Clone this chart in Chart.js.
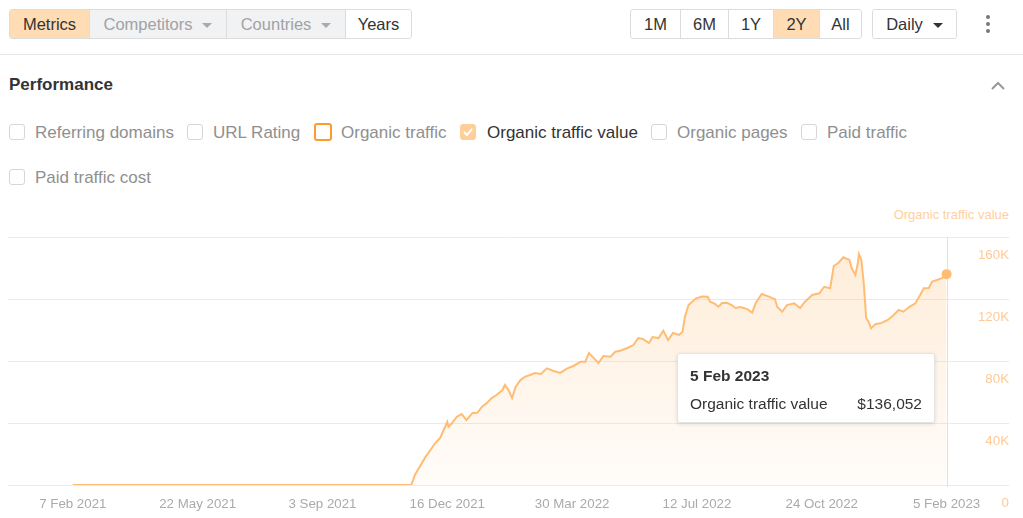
<!DOCTYPE html>
<html>
<head>
<meta charset="utf-8">
<script src="https://cdn.jsdelivr.net/npm/chart.js@4/dist/chart.umd.min.js"></script>
<style>
    html, body { margin: 0; padding: 0; background: #fff; }
    body { width: 1023px; height: 518px; position: relative; overflow: hidden;
        font-family: "Liberation Sans", Arial, sans-serif; color: #333; }
    .seg { position: absolute; top: 9px; height: 30px; display: flex; border: 1px solid #dcdcdc;
        border-radius: 3px; box-sizing: border-box; overflow: hidden; }
    .seg div { height: 28px; line-height: 28px; font-size: 16.5px; text-align: center; box-sizing: border-box;
        border-left: 1px solid #dcdcdc; background: #fff; color: #333; }
    .seg div:first-child { border-left: none; }
    .seg .on { background: #ffdcb4; }
    .seg .off { background: #f1f2f4; color: #a2a2a2; }
    .caret { display: inline-block; width: 0; height: 0; border-left: 5px solid transparent;
        border-right: 5px solid transparent; border-top: 5px solid #aaa; vertical-align: middle; margin-left: 10px; }
    .dark { border-top-color: #333; }
    .sep { position: absolute; left: 0; top: 54px; width: 1023px; height: 1px; background: #e6e6e6; }
    .title { position: absolute; left: 9px; top: 75px; font-size: 17px; font-weight: bold; color: #333; }
    .cb { position: absolute; font-size: 17px; color: #8f8f8f; white-space: nowrap; }
    .cb .box { position: absolute; left: 0; top: 1px; width: 16px; height: 16px; border: 1px solid #d6d6d6;
        border-radius: 3px; box-sizing: border-box; }
    .cb span { position: absolute; left: 26px; top: 0; }
    .kebab { position: absolute; left: 986px; top: 15px; width: 4px; }
    .kebab i { display: block; width: 4px; height: 4px; border-radius: 2px; background: #777; margin-bottom: 3px; }
    #wrap { position: absolute; left: 0; top: 225px; width: 1023px; height: 304px; }
    .axtitle { position: absolute; right: 14px; top: 207px; font-size: 13px; color: #ffcf9f; }
    #tip { position: absolute; left: 677px; top: 353px; width: 258px; height: 70px; background: #fff;
        border: 1px solid #e4e4e4; border-radius: 3px; box-sizing: border-box;
        box-shadow: 0 1px 4px rgba(0,0,0,0.12); font-size: 15.5px; color: #333; }
    #tip .t { position: absolute; left: 12px; top: 13px; font-weight: bold; }
    #tip .l { position: absolute; left: 12px; top: 41px; }
    #tip .v { position: absolute; right: 12px; top: 41px; }
</style>
</head>
<body>
<div class="seg" style="left:9px;width:403px;">
    <div class="on" style="width:79px;">Metrics</div>
    <div class="off" style="width:137px;">Competitors<span class="caret"></span></div>
    <div class="off" style="width:119px;">Countries<span class="caret"></span></div>
    <div style="width:66px;">Years</div>
</div>
<div class="seg" style="left:630px;width:232px;">
    <div style="width:49px;">1M</div>
    <div style="width:48px;">6M</div>
    <div style="width:45px;">1Y</div>
    <div class="on" style="width:46px;">2Y</div>
    <div style="width:42px;">All</div>
</div>
<div class="seg" style="left:872px;width:85px;">
    <div style="width:83px;">Daily<span class="caret dark"></span></div>
</div>
<div class="kebab"><i></i><i></i><i></i></div>
<div class="sep"></div>
<div class="title">Performance</div>
<svg style="position:absolute;left:991px;top:81px" width="14" height="9"><polyline points="1,8 7,2 13,8" fill="none" stroke="#999" stroke-width="2"/></svg>

<div class="cb" style="left:9px;top:123px;"><div class="box"></div><span>Referring domains</span></div>
<div class="cb" style="left:187px;top:123px;"><div class="box"></div><span>URL Rating</span></div>
<div class="cb" style="left:314px;top:123px;"><div class="box" style="border:2px solid #ff9b2e;width:18px;height:18px;top:0;"></div><span style="left:27px;">Organic traffic</span></div>
<div class="cb" style="left:460px;top:123px;"><div class="box" style="background:#ffcf9a;border-color:#ffcf9a;">
    <svg width="14" height="14" style="position:absolute;left:0;top:0"><polyline points="3,7 6,10 11,4" fill="none" stroke="#fff" stroke-width="2"/></svg></div><span style="color:#333;left:27px;">Organic traffic value</span></div>
<div class="cb" style="left:651px;top:123px;"><div class="box"></div><span>Organic pages</span></div>
<div class="cb" style="left:801px;top:123px;"><div class="box"></div><span>Paid traffic</span></div>
<div class="cb" style="left:9px;top:168px;"><div class="box"></div><span>Paid traffic cost</span></div>

<div class="axtitle">Organic traffic value</div>
<div id="wrap"><canvas id="perfChart"></canvas></div>
<div id="tip"><div class="t"></div><div class="l">Organic traffic value</div><div class="v"></div></div>

<script>
// day offsets counted from 7 Feb 2021
const days = [0, 282, 285, 289, 294, 298, 302, 306, 309, 312, 313, 316, 320, 324, 328, 333, 337, 341, 345, 349,
    353, 358, 360, 363, 366, 369, 373, 377, 381, 385, 390, 395, 400, 406, 412, 417, 423, 427, 430, 434,
    438, 442, 448, 452, 456, 462, 467, 471, 475, 480, 483, 488, 492, 496, 500, 505, 508, 510, 513, 519,
    524, 529, 531, 535, 538, 541, 545, 549, 552, 556, 562, 566, 569, 574, 580, 585, 587, 591, 595, 601,
    606, 610, 616, 622, 626, 631, 634, 638, 642, 647, 649, 652, 654, 655, 657, 659, 661, 663, 665, 669,
    673, 679, 684, 688, 692, 697, 702, 706, 709, 713, 716, 720, 724, 728];

const trafficValue = [0, 0, 6500, 11800, 18300, 22600, 27100, 30300, 35500, 40800, 37600, 40000, 44100, 45800, 41900, 46500, 46600, 50500, 52900, 56100,
    58100, 61300, 64500, 61300, 56100, 63400, 67700, 69900, 71000, 72300, 71600, 75300, 73700, 72300, 75300, 76800, 79500, 79500, 85200, 81900,
    78700, 83200, 82800, 86000, 86600, 88400, 90300, 94800, 94200, 91600, 95500, 94800, 99500, 93500, 98100, 96800, 98900, 108600, 116100, 120300,
    121600, 121500, 118300, 116800, 115000, 117400, 117600, 116100, 114200, 114800, 113500, 111200, 117400, 123200, 121500, 119800, 114800, 111800, 116100, 117200,
    114200, 118300, 122600, 123700, 127900, 126900, 141300, 143400, 146900, 145200, 139800, 135500, 143000, 149000, 145200, 130100, 107700, 105400, 101100, 103900,
    104300, 106500, 109700, 112900, 111800, 115000, 117200, 122600, 126900, 126900, 131200, 132300, 133400, 136052];

const tickDays = [0, 104, 208, 312, 416, 520, 624, 728];
const tickLabels = ['7 Feb 2021', '22 May 2021', '3 Sep 2021', '16 Dec 2021', '30 Mar 2022', '12 Jul 2022', '24 Oct 2022', '5 Feb 2023'];
const yTicks = [0, 40000, 80000, 120000, 160000];

const months = ['Jan', 'Feb', 'Mar', 'Apr', 'May', 'Jun', 'Jul', 'Aug', 'Sep', 'Oct', 'Nov', 'Dec'];
const lastIdx = days.length - 1;

function dayLabel(d) {
    const dt = new Date(2021, 1, 7 + d);
    return `${dt.getDate()} ${months[dt.getMonth()]} ${dt.getFullYear()}`;
}

document.querySelector('#tip .t').textContent = dayLabel(days[lastIdx]);
document.querySelector('#tip .v').textContent = '$' + trafficValue[lastIdx].toLocaleString('en-US');

const crosshair = {
    id: 'crosshair',
    beforeDatasetsDraw(chart) {
        const x = Math.round(chart.scales.x.getPixelForValue(days[lastIdx])) + 0.5;
        const ctx = chart.ctx;
        ctx.save();
        ctx.strokeStyle = '#e2e2e2';
        ctx.lineWidth = 1;
        ctx.beginPath();
        ctx.moveTo(x, chart.chartArea.top);
        ctx.lineTo(x, chart.chartArea.bottom + 2);
        ctx.stroke();
        ctx.restore();
    }
};

const ctx = document.getElementById('perfChart').getContext('2d');
new Chart(ctx, {
    type: 'line',
    data: {
        datasets: [{
            label: 'Organic traffic value',
            data: days.map((d, i) => ({ x: d, y: trafficValue[i] })),
            borderColor: '#ffbd74',
            borderWidth: 2,
            fill: 'origin',
            backgroundColor: (c) => {
                const area = c.chart.chartArea;
                if (!area) return 'rgba(255,190,120,0.15)';
                const g = c.chart.ctx.createLinearGradient(0, area.top, 0, area.bottom);
                g.addColorStop(0, 'rgba(255,185,110,0.28)');
                g.addColorStop(1, 'rgba(255,185,110,0.04)');
                return g;
            },
            tension: 0,
            pointRadius: (c) => c.dataIndex === lastIdx ? 5 : 0,
            pointBackgroundColor: '#ffbd74',
            pointBorderWidth: 0,
        }]
    },
    options: {
        responsive: true,
        maintainAspectRatio: false,
        animation: false,
        events: [],
        layout: { padding: { left: 8, right: 14, top: 12, bottom: 6 } },
        plugins: { legend: { display: false }, tooltip: { enabled: false } },
        scales: {
            x: {
                type: 'linear',
                min: -54,
                max: 780,
                afterBuildTicks: (axis) => { axis.ticks = tickDays.map(v => ({ value: v })); },
                grid: { display: false, drawTicks: false },
                border: { display: false },
                ticks: {
                    autoSkip: false,
                    maxRotation: 0,
                    padding: 11,
                    color: '#aaaaaa',
                    font: { family: '"Liberation Sans", Arial, sans-serif', size: 13.3 },
                    callback: (v) => tickLabels[tickDays.indexOf(v)] || ''
                }
            },
            y: {
                position: 'right',
                min: 0,
                max: 160000,
                afterBuildTicks: (axis) => { axis.ticks = yTicks.map(v => ({ value: v })); },
                grid: { color: '#ebebeb', drawTicks: false },
                border: { display: false },
                ticks: {
                    mirror: true,
                    padding: 0,
                    labelOffset: 18,
                    color: '#ffc995',
                    font: { family: '"Liberation Sans", Arial, sans-serif', size: 13.3 },
                    callback: (v) => v === 0 ? '0' : (v / 1000) + 'K'
                }
            }
        }
    },
    plugins: [crosshair]
});
</script>
</body>
</html>
